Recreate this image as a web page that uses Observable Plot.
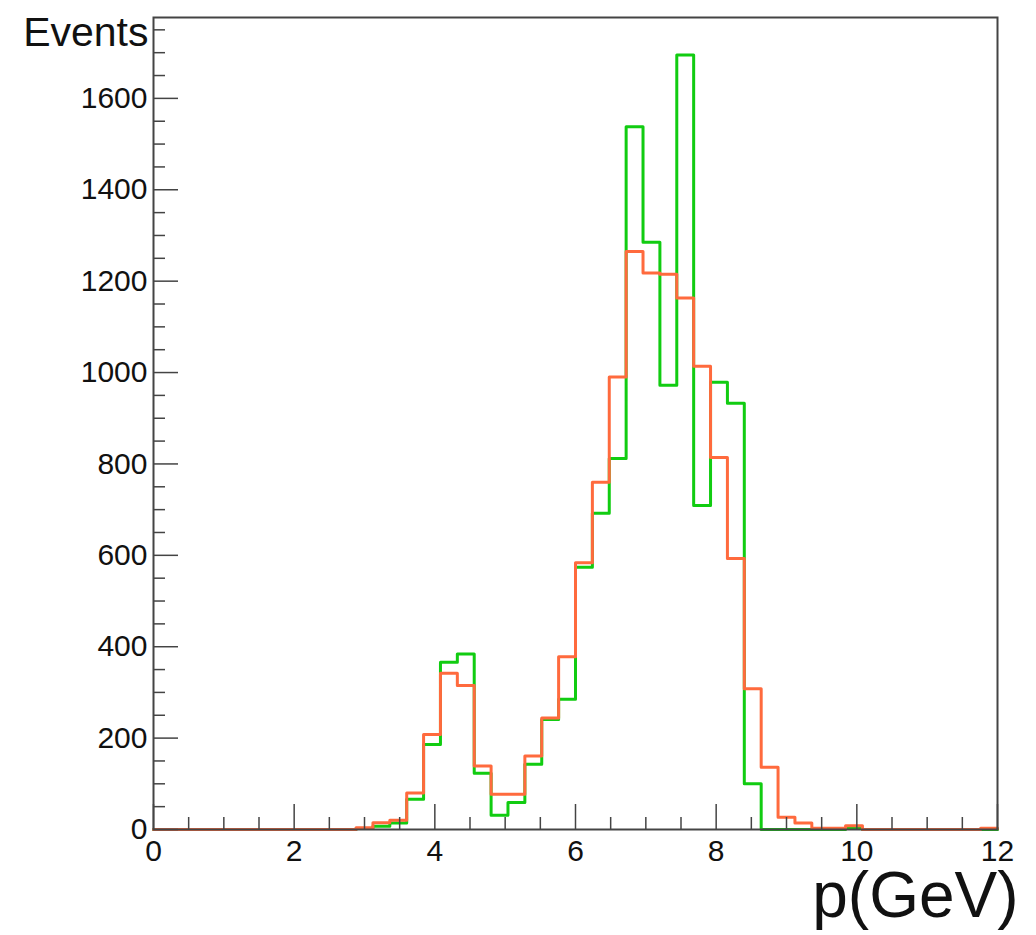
<!DOCTYPE html>
<html>
<head>
<meta charset="utf-8">
<script src="https://cdn.jsdelivr.net/npm/d3@7"></script>
<script src="https://cdn.jsdelivr.net/npm/@observablehq/plot@0.6"></script>
<style>
  html, body { margin: 0; padding: 0; background: #fff; }
  #chart { width: 1036px; height: 935px; }
</style>
</head>
<body>
<div id="chart"></div>
<script>
// 50 bins of width 0.24 GeV from 0 to 12
const binEdges = d3.range(0, 51).map(i => +(i * 0.24).toFixed(2));

// Green histogram (events per bin)
const greenCounts = [
  0, 0, 0, 0, 0, 0, 0, 0, 0, 0,
  0, 0, 2, 7, 14, 66, 186, 366, 384, 123,
  31, 59, 143, 241, 285, 574, 692, 812, 1538, 1285,
  972, 1695, 709, 979, 933, 100, 0, 0, 0, 0,
  0, 2, 0, 0, 0, 0, 0, 0, 0, 0
];

// Orange histogram (events per bin)
const orangeCounts = [
  0, 0, 0, 0, 0, 0, 0, 0, 0, 0,
  0, 0, 4, 15, 20, 80, 208, 342, 315, 139,
  77, 77, 161, 244, 378, 584, 760, 990, 1265, 1218,
  1215, 1163, 1014, 814, 593, 308, 136, 27, 14, 3,
  3, 8, 0, 0, 0, 0, 0, 0, 0, 3
];

const xMajorTicks = [0, 2, 4, 6, 8, 10, 12];
const xMinorTicks = d3.range(0.5, 12, 0.5).filter(v => v % 2 !== 0);
const yMajorTicks = [0, 200, 400, 600, 800, 1000, 1200, 1400, 1600];
const yMinorTicks = d3.range(50, 1777, 50).filter(v => v % 200 !== 0);

const yTitle = "Events";
const xTitle = "p(GeV)";

// Build step rows: one point per bin left edge, plus closing point at right edge
function steps(counts, name) {
  const rows = counts.map((c, i) => ({x: binEdges[i], y: c, series: name}));
  rows.push({x: binEdges[counts.length], y: counts[counts.length - 1], series: name});
  return rows;
}
const greenSteps = steps(greenCounts, "green");
const orangeSteps = steps(orangeCounts, "orange");

const W = 1036, H = 935;
const mL = 153, mT = 17, mR = 39, mB = 106;
const innerW = W - mL - mR;
const innerH = H - mT - mB;
const majorLen = 25, minorLen = 12;
const axisColor = "#444";
const font = "'Liberation Sans', Helvetica, Arial, sans-serif";

const chart = Plot.plot({
  width: W,
  height: H,
  marginLeft: mL,
  marginTop: mT,
  marginRight: mR,
  marginBottom: mB,
  style: {fontFamily: font, background: "#fff", color: "#111"},
  x: {domain: [0, 12]},
  y: {domain: [0, 1777]},
  marks: [
    // histograms
    Plot.line(greenSteps, {x: "x", y: "y", curve: "step-after", stroke: "#11cc11", strokeWidth: 3}),
    Plot.line(orangeSteps, {x: "x", y: "y", curve: "step-after", stroke: "#ff6a3d", strokeWidth: 3}),
    // inward ticks
    Plot.ruleY(yMajorTicks, {y: d => d, stroke: axisColor, strokeWidth: 1.5, insetRight: innerW - majorLen}),
    Plot.ruleY(yMinorTicks, {y: d => d, stroke: axisColor, strokeWidth: 1.5, insetRight: innerW - minorLen}),
    Plot.ruleX(xMajorTicks, {x: d => d, stroke: axisColor, strokeWidth: 1.5, insetTop: innerH - majorLen}),
    Plot.ruleX(xMinorTicks, {x: d => d, stroke: axisColor, strokeWidth: 1.5, insetTop: innerH - minorLen}),
    // frame
    Plot.frame({stroke: axisColor, strokeWidth: 2}),
    // tick labels
    Plot.axisY(yMajorTicks, {tickSize: 0, tickPadding: 6, fontSize: 30, label: null, tickFormat: d => String(d)}),
    Plot.axisX(xMajorTicks, {tickSize: 0, tickPadding: 10, fontSize: 30, label: null, tickFormat: d => String(d)}),
    // titles
    Plot.text([yTitle], {frameAnchor: "top-left", text: d => d, textAnchor: "end", dx: -5, dy: -1, fontSize: 41, fill: "#111"}),
    Plot.text([xTitle], {frameAnchor: "bottom-right", text: d => d, textAnchor: "end", dx: 21, dy: 87, fontSize: 64, fill: "#111"})
  ]
});
document.getElementById("chart").appendChild(chart);
</script>
</body>
</html>
